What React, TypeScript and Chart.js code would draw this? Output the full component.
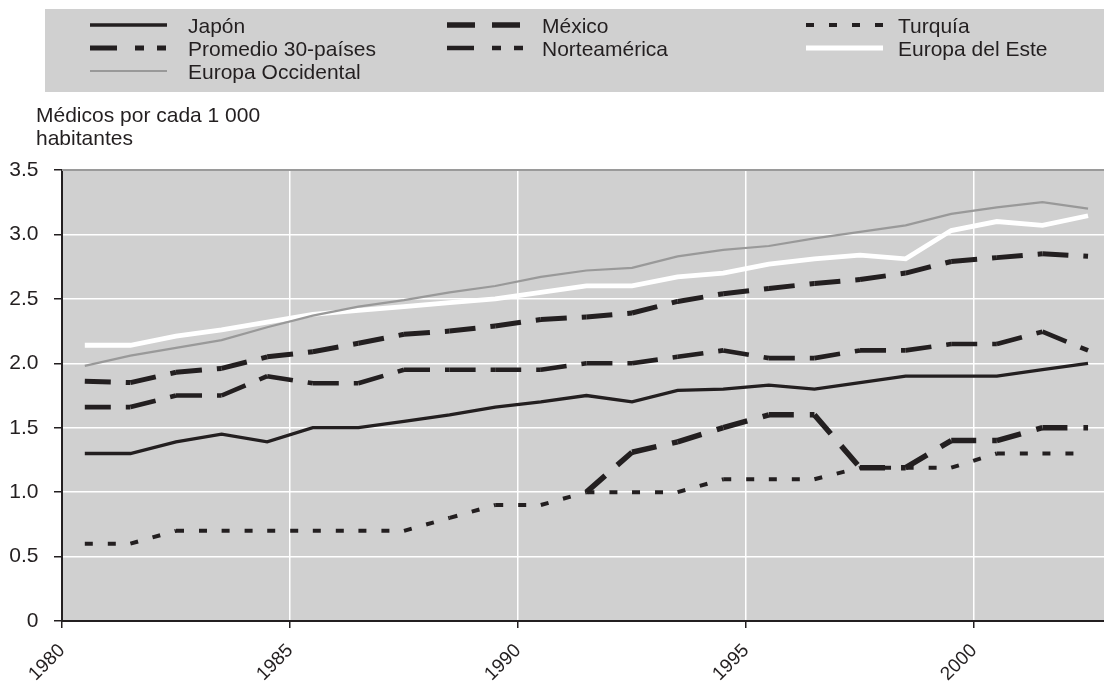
import React, { useEffect, useRef } from "react";
import { Chart, registerables } from "chart.js";

Chart.register(...registerables);

// ---------- data ----------
const years = [1980, 1981, 1982, 1983, 1984, 1985, 1986, 1987, 1988, 1989, 1990, 1991, 1992, 1993, 1994, 1995, 1996, 1997, 1998, 1999, 2000, 2001, 2002];

const japon = [1.3, 1.3, 1.39, 1.45, 1.39, 1.5, 1.5, 1.55, 1.6, 1.66, 1.7, 1.75, 1.7, 1.79, 1.8, 1.83, 1.8, 1.85, 1.9, 1.9, 1.9, 1.95, 2.0];
const promedio30 = [1.86, 1.85, 1.93, 1.96, 2.05, 2.09, 2.155, 2.225, 2.25, 2.29, 2.34, 2.36, 2.39, 2.48, 2.54, 2.58, 2.62, 2.65, 2.7, 2.79, 2.82, 2.85, 2.83];
const europaOccidental = [1.98, 2.06, 2.12, 2.18, 2.28, 2.37, 2.44, 2.49, 2.55, 2.6, 2.67, 2.72, 2.74, 2.83, 2.88, 2.91, 2.97, 3.02, 3.07, 3.16, 3.21, 3.25, 3.2];
const mexico = [null, null, null, null, null, null, null, null, null, null, null, 1.0, 1.31, 1.39, 1.5, 1.6, 1.6, 1.19, 1.19, 1.4, 1.4, 1.5, 1.5];
const norteamerica = [1.66, 1.66, 1.75, 1.75, 1.9, 1.845, 1.845, 1.95, 1.95, 1.95, 1.95, 2.0, 2.0, 2.05, 2.1, 2.04, 2.04, 2.1, 2.1, 2.15, 2.15, 2.245, 2.1];
const turquia = [0.6, 0.6, 0.7, 0.7, 0.7, 0.7, 0.7, 0.7, 0.8, 0.9, 0.9, 1.0, 1.0, 1.0, 1.1, 1.1, 1.1, 1.19, 1.19, 1.19, 1.3, 1.3, 1.3];
const europaEste = [2.14, 2.14, 2.21, 2.26, 2.32, 2.38, 2.41, 2.44, 2.47, 2.5, 2.55, 2.6, 2.6, 2.67, 2.7, 2.77, 2.81, 2.84, 2.81, 3.03, 3.1, 3.07, 3.145];

const yTitle = ["Médicos por cada 1 000", "habitantes"];

// ---------- style ----------
const INK = "#231f20";
const PANEL = "#d0d0d0";
const FONT = '"Liberation Sans", Arial, Helvetica, sans-serif';
const FS = 21;
const FS_X = 19;

type Series = {
  label: string;
  data: (number | null)[];
  color: string;
  width: number;
  dash: number[];
  legendDash: number[];
  col: number;
  row: number;
};

const series: Series[] = [
  { label: "Japón", data: japon, color: INK, width: 3.3, dash: [], legendDash: [], col: 0, row: 0 },
  { label: "Promedio 30-países", data: promedio30, color: INK, width: 5, dash: [26, 15, 9, 13, 9, 13], legendDash: [27, 18, 9, 13, 9, 13], col: 0, row: 1 },
  { label: "Europa Occidental", data: europaOccidental, color: "#999999", width: 2.2, dash: [], legendDash: [], col: 0, row: 2 },
  { label: "México", data: mexico, color: INK, width: 5.5, dash: [25, 16], legendDash: [28, 17], col: 1, row: 0 },
  { label: "Norteamérica", data: norteamerica, color: INK, width: 4.6, dash: [26, 15, 9, 13, 9, 13], legendDash: [27, 18, 9, 13, 9, 13], col: 1, row: 1 },
  { label: "Turquía", data: turquia, color: INK, width: 4, dash: [8, 15], legendDash: [8, 15], col: 2, row: 0 },
  { label: "Europa del Este", data: europaEste, color: "#ffffff", width: 4.8, dash: [], legendDash: [], col: 2, row: 1 },
];

const LEG_SAMPLE_X = [90, 447, 806];
const LEG_TEXT_X = [188, 542, 898];
const LEG_BASE_Y = [32.5, 55.5, 78.5];
const LEG_SAMPLE_LEN = 77;

const decor = {
  id: "decor",
  beforeDraw(chart: any) {
    const { ctx, chartArea: a } = chart;
    ctx.save();
    ctx.fillStyle = PANEL;
    ctx.fillRect(45, 9, chart.width - 45, 83);
    ctx.fillRect(a.left, a.top, a.right - a.left, a.bottom - a.top);
    ctx.restore();
  },
  afterDraw(chart: any) {
    const { ctx, chartArea: a } = chart;
    ctx.save();
    // top border of plot
    ctx.strokeStyle = "#9a9a9a";
    ctx.lineWidth = 2;
    ctx.setLineDash([]);
    ctx.beginPath();
    ctx.moveTo(a.left, a.top);
    ctx.lineTo(a.right, a.top);
    ctx.stroke();

    // legend
    ctx.font = `${FS}px ${FONT}`;
    ctx.textAlign = "left";
    ctx.textBaseline = "alphabetic";
    series.forEach((s) => {
      const yb = LEG_BASE_Y[s.row];
      const yl = yb - 7.5;
      const x0 = LEG_SAMPLE_X[s.col];
      ctx.strokeStyle = s.color;
      ctx.lineWidth = s.width;
      ctx.lineCap = "butt";
      ctx.setLineDash(s.legendDash);
      ctx.lineDashOffset = 0;
      ctx.beginPath();
      ctx.moveTo(x0, yl);
      ctx.lineTo(x0 + LEG_SAMPLE_LEN, yl);
      ctx.stroke();
      ctx.setLineDash([]);
      ctx.fillStyle = INK;
      ctx.fillText(s.label, LEG_TEXT_X[s.col], yb);
    });

    // y-axis title
    ctx.fillStyle = INK;
    ctx.fillText(yTitle[0], 36, 122);
    ctx.fillText(yTitle[1], 36, 145);
    ctx.restore();
  },
};

export default function App() {
  const ref = useRef<HTMLCanvasElement | null>(null);

  useEffect(() => {
    if (!ref.current) return;
    const datasets = series.map((s) => {
      const ds: any = {
        label: s.label,
        data: s.data.map((v, i) => ({ x: years[i] + 0.5, y: v })),
        borderColor: s.color,
        backgroundColor: s.color,
        borderWidth: s.width,
        borderDash: s.dash,
        borderCapStyle: "butt",
        borderJoinStyle: "miter",
        pointRadius: 0,
        pointHoverRadius: 0,
        tension: 0,
        fill: false,
      };
      if (s.dash.length) {
        // restart the dash pattern at every data point (Excel-like)
        ds.segment = {
          borderDash: () => s.dash,
          borderDashOffset: (c: any) => (c.p0DataIndex % 2 ? 0.01 : 0),
        };
      }
      return ds;
    });

    const chart = new Chart(ref.current, {
      type: "line",
      data: { datasets },
      plugins: [decor],
      options: {
        responsive: false,
        animation: false,
        devicePixelRatio: 1,
        layout: { padding: { top: 170, left: 0, right: 0, bottom: 0 } },
        plugins: {
          legend: { display: false },
          title: { display: false },
          tooltip: { enabled: false },
        },
        scales: {
          x: {
            type: "linear",
            min: 1980,
            max: 2002.85,
            afterFit: (sc: any) => {
              sc.height = 60;
            },
            grid: {
              color: "#ffffff",
              lineWidth: 1.5,
              tickColor: INK,
              tickLength: 7,
              drawTicks: true,
            },
            border: { color: INK, width: 2 },
            ticks: {
              stepSize: 5,
              includeBounds: false,
              autoSkip: false,
              maxRotation: 45,
              minRotation: 45,
              padding: 11.5,
              color: INK,
              font: { family: FONT, size: FS_X },
              callback: (v: any) => String(v),
            },
          },
          y: {
            type: "linear",
            min: 0,
            max: 3.5,
            afterFit: (sc: any) => {
              sc.width = 62;
            },
            grid: {
              color: "#ffffff",
              lineWidth: 1.5,
              tickColor: INK,
              tickLength: 8,
            },
            border: { color: INK, width: 2 },
            ticks: {
              stepSize: 0.5,
              padding: 15.5,
              color: INK,
              font: { family: FONT, size: FS },
              callback: (v: any) => (Number(v) === 0 ? "0" : Number(v).toFixed(1)),
            },
          },
        },
      },
    } as any);
    return () => chart.destroy();
  }, []);

  return (
    <div style={{ position: "fixed", left: 0, top: 0, width: 1104, height: 681, overflow: "hidden", background: "#ffffff" }}>
      <canvas ref={ref} width={1104} height={681} style={{ display: "block", width: 1104, height: 681 }} />
    </div>
  );
}
